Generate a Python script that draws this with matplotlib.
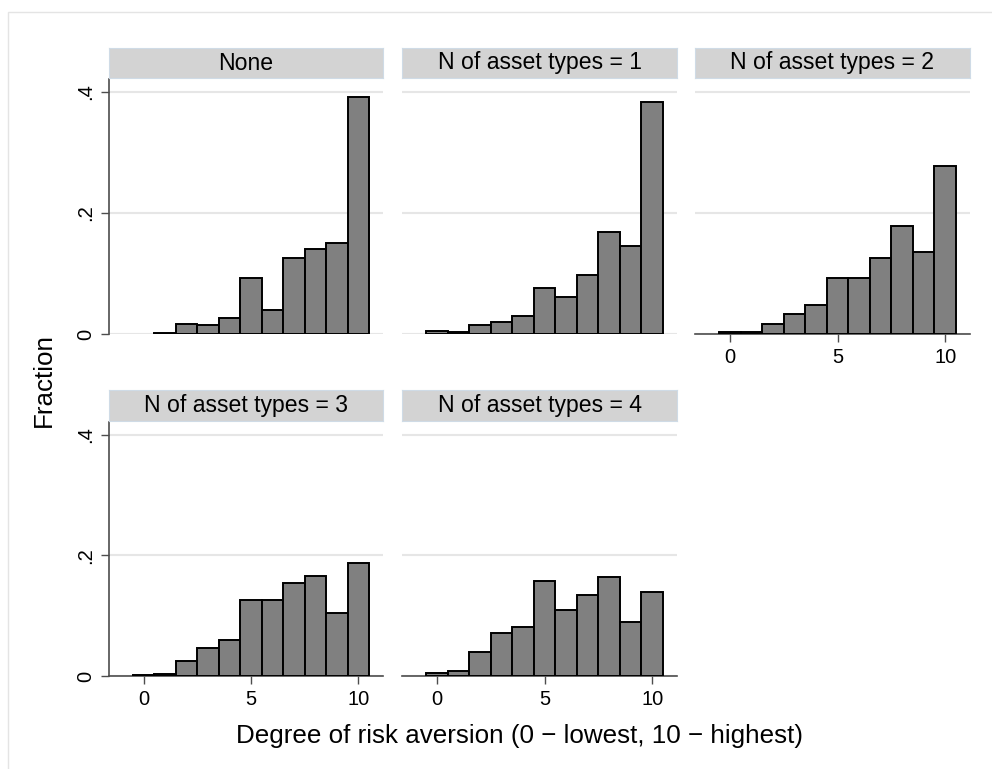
"""Histograms of risk aversion by number of asset types (Stata-style facets)."""
import matplotlib
matplotlib.use('agg')
import matplotlib.pyplot as plt
from matplotlib.patches import Rectangle

plt.rcParams['font.family'] = ['Liberation Sans', 'DejaVu Sans']

# risk aversion score 0..10, fraction per score
scores = [0, 1, 2, 3, 4, 5, 6, 7, 8, 9, 10]
frac_none = [0.0, 0.002, 0.017, 0.015, 0.0265, 0.093, 0.039, 0.125, 0.140, 0.151, 0.392]
frac_n1 = [0.005, 0.003, 0.0155, 0.019, 0.029, 0.076, 0.061, 0.097, 0.168, 0.146, 0.383]
frac_n2 = [0.004, 0.004, 0.0165, 0.033, 0.0475, 0.093, 0.092, 0.126, 0.178, 0.135, 0.277]
frac_n3 = [0.002, 0.003, 0.025, 0.046, 0.059, 0.126, 0.126, 0.154, 0.166, 0.105, 0.187]
frac_n4 = [0.005, 0.008, 0.039, 0.071, 0.081, 0.158, 0.110, 0.134, 0.164, 0.090, 0.140]

titles = ['None', 'N of asset types = 1', 'N of asset types = 2',
          'N of asset types = 3', 'N of asset types = 4']
series = [frac_none, frac_n1, frac_n2, frac_n3, frac_n4]
yticks = [0, 0.2, 0.4]
ytick_labels = ['0', '.2', '.4']
xticks = [0, 5, 10]

W, H = 992, 769
AXIS_COL = '#4d4d4d'
GRID_COL = '#e6e6e6'


def px_box(x0, y0, x1, y1):
    # pixel box (top-left origin) -> figure fraction [l, b, w, h]
    return [x0 / W, 1 - y1 / H, (x1 - x0) / W, (y1 - y0) / H]


def main():
    fig = plt.figure(figsize=(W / 100, H / 100), dpi=100)

    # outer graph region border
    fig.patches.append(Rectangle((8 / W, -0.02), 1.05, 1 - 12 / H + 0.02,
                                 transform=fig.transFigure, facecolor='none',
                                 edgecolor='#e4e4e4', linewidth=1.0))

    cols = [(109, 383), (402, 677), (695, 970)]
    rows = [(48, 79, 334), (390, 422, 676)]

    for i, (title, vals) in enumerate(zip(titles, series)):
        r, c = divmod(i, 3)
        x0, x1 = cols[c]
        s0, a0, a1 = rows[r]

        ax = fig.add_axes(px_box(x0, a0, x1, a1))
        xs = [s for s, v in zip(scores, vals) if v > 0]
        hs = [v for v in vals if v > 0]
        ax.bar(xs, hs, width=1.0, color='#808080', edgecolor='black',
               linewidth=1.4, zorder=3)
        ax.set_xlim(-1.62, 11.15)
        ax.set_ylim(0, 0.421)
        for yv in yticks:
            ax.axhline(yv, color=GRID_COL, linewidth=1.5, zorder=1)

        for side in ['top', 'right']:
            ax.spines[side].set_visible(False)
        ax.spines['left'].set_color(AXIS_COL)
        ax.spines['bottom'].set_color(AXIS_COL)
        ax.spines['left'].set_linewidth(1.2)
        ax.spines['bottom'].set_linewidth(1.2)

        ax.set_yticks(yticks)
        if c == 0:
            ax.set_yticklabels(ytick_labels, rotation=90, va='center')
            ax.tick_params(axis='y', length=6, width=1.0, color=AXIS_COL,
                           labelsize=14.5, pad=4)
        else:
            ax.spines['left'].set_visible(False)
            ax.tick_params(axis='y', left=False, labelleft=False)

        ax.set_xticks(xticks)
        has_xaxis = (r == 1) or (c == 2)
        if has_xaxis:
            ax.tick_params(axis='x', length=6, width=1.0, color=AXIS_COL,
                           labelsize=14.5, pad=4)
        else:
            ax.spines['bottom'].set_visible(False)
            ax.tick_params(axis='x', bottom=False, labelbottom=False)

        # facet strip
        sax = fig.add_axes(px_box(x0, s0, x1, a0 - 1))
        sax.set_facecolor('#d3d3d3')
        for sp in sax.spines.values():
            sp.set_color('#cfdbe6')
            sp.set_linewidth(0.8)
        sax.set_xticks([])
        sax.set_yticks([])
        sax.text(0.5, 0.5, title, ha='center', va='center', fontsize=16.6,
                 transform=sax.transAxes)

    fig.text(44 / W, 1 - 380 / H, 'Fraction', rotation=90, ha='center',
             va='center', fontsize=18.7)
    fig.text(520 / W, 1 - 736 / H,
             'Degree of risk aversion (0 \u2212 lowest, 10 \u2212 highest)',
             ha='center', va='center', fontsize=18.7)

    fig.savefig('out.png', dpi=100)


if __name__ == '__main__':
    main()
